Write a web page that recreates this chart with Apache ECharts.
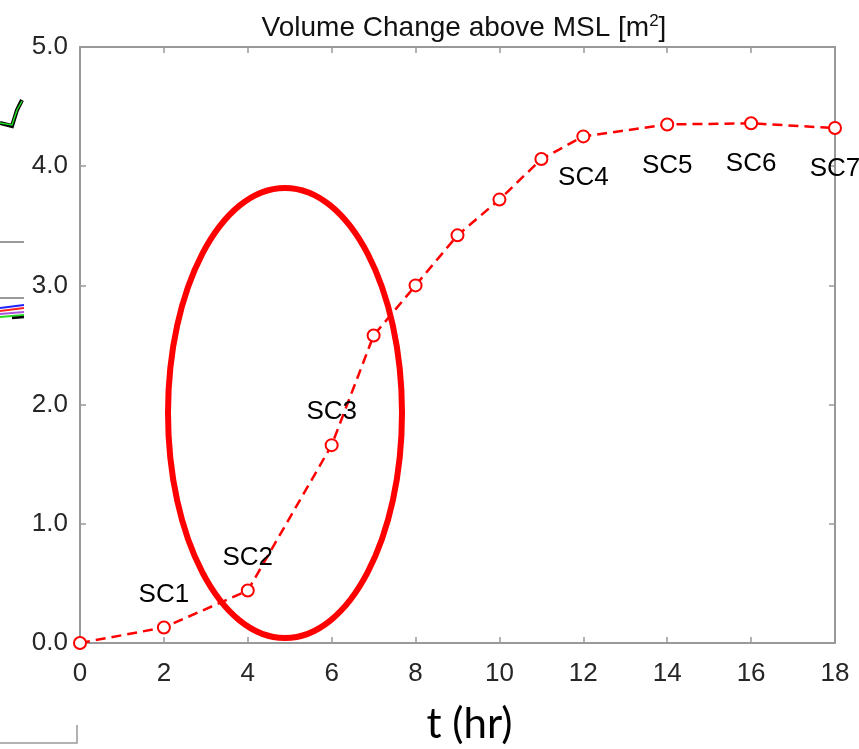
<!DOCTYPE html>
<html>
<head>
<meta charset="utf-8">
<script src="https://cdn.jsdelivr.net/npm/echarts@6/dist/echarts.min.js"></script>
<style>
  html, body { margin: 0; padding: 0; background: #fff; }
  #chart { width: 859px; height: 749px; }
</style>
</head>
<body>
<div id="chart"></div>
<script>
// time (hr) and volume change above MSL
var hours = [0, 2, 4, 6, 7, 8, 9, 10, 11, 12, 14, 16, 18];
var volume = [0, 0.13, 0.44, 1.66, 2.58, 3.0, 3.42, 3.72, 4.06, 4.25, 4.35, 4.36, 4.32];
// scenario labels, '' where a point has no label
var scLabels = ['', 'SC1', 'SC2', 'SC3', '', '', '', '', '', 'SC4', 'SC5', 'SC6', 'SC7'];
var xTicks = [0, 18, 2];
var yTicks = [0, 5, 1];

var axisGray = '#999999'
var textDark = '#262626'

var seriesData = hours.map(function (h, i) {
    var item = { value: [h, volume[i]] }
    if (scLabels[i]) {
        var below = h >= 12
        item.label = {
            show: true,
            formatter: scLabels[i],
            position: below ? 'bottom' : 'top',
            distance: below ? 21 : 13
        }
    }
    return item
})

function axisBase(opts) {
    return Object.assign({
        type: 'value',
        axisLine: { show: true, onZero: false, lineStyle: { color: axisGray, width: 2 } },
        axisTick: { show: true, inside: true, length: 6, lineStyle: { color: axisGray, width: 1.5 } },
        splitLine: { show: false },
        axisLabel: { show: false }
    }, opts)
}

var chart = echarts.init(document.getElementById('chart'))
chart.setOption({
    animation: false,
    title: {
        text: 'Volume Change above MSL [m{sup|2}]',
        left: 459,
        textAlign: 'center',
        top: 8,
        textStyle: {
            fontFamily: 'Liberation Sans',
            fontWeight: 'normal',
            fontSize: 28,
            color: '#111',
            rich: { sup: { fontSize: 17, verticalAlign: 'top', padding: [0, 0, 14, 0], fontFamily: 'Liberation Sans', color: '#111' } }
        }
    },
    grid: { left: 80, right: 24, top: 47, bottom: 106, outerBoundsMode: 'none', containLabel: false },
    xAxis: [
        axisBase({
            min: xTicks[0], max: xTicks[1], interval: xTicks[2],
            position: 'bottom',
            axisLabel: { show: true, fontFamily: 'Liberation Sans', fontSize: 26, color: textDark, margin: 18 },
            name: 't (hr)',
            nameLocation: 'middle',
            nameGap: 60,
            nameTextStyle: { fontFamily: 'Lato', fontSize: 42, color: '#000', verticalAlign: 'top', padding: [0, 0, 0, 24] }
        }),
        axisBase({ min: xTicks[0], max: xTicks[1], interval: xTicks[2], position: 'top' })
    ],
    yAxis: [
        axisBase({
            min: yTicks[0], max: yTicks[1], interval: yTicks[2],
            position: 'left',
            axisLabel: {
                show: true, fontFamily: 'Liberation Sans', fontSize: 26, color: textDark, margin: 12,
                formatter: function (v) { return v.toFixed(1) }
            }
        }),
        axisBase({ min: yTicks[0], max: yTicks[1], interval: yTicks[2], position: 'right' })
    ],
    series: [{
        type: 'line',
        xAxisIndex: 0,
        yAxisIndex: 0,
        data: seriesData,
        clip: false,
        symbol: 'emptyCircle',
        symbolSize: 12,
        lineStyle: { color: '#ff0000', width: 2.5, type: [10, 6] },
        itemStyle: { color: '#ff0000', borderColor: '#ff0000', borderWidth: 2.5 },
        label: { fontFamily: 'Liberation Sans', fontSize: 26, color: '#000' },
        z: 3
    }],
    graphic: [
        // highlight ellipse
        {
            type: 'ellipse',
            shape: { cx: 285, cy: 413, rx: 117, ry: 225 },
            style: { fill: null, stroke: '#ff0000', lineWidth: 6 },
            z: 10
        },
        // cropped bits of neighbouring panels on the left edge
        { type: 'polyline', shape: { points: [[0, 123], [12, 126], [17, 110], [22, 100]] }, style: { stroke: '#000', lineWidth: 4, fill: null } },
        { type: 'polyline', shape: { points: [[0, 123], [12, 125], [17, 110], [22, 101]] }, style: { stroke: '#22dd22', lineWidth: 1.5, fill: null } },
        { type: 'line', shape: { x1: 0, y1: 242, x2: 24, y2: 242 }, style: { stroke: axisGray, lineWidth: 2 } },
        { type: 'line', shape: { x1: 0, y1: 298, x2: 24, y2: 298 }, style: { stroke: axisGray, lineWidth: 2 } },
        { type: 'line', shape: { x1: 0, y1: 308, x2: 24, y2: 305 }, style: { stroke: '#2222ff', lineWidth: 2 } },
        { type: 'line', shape: { x1: 0, y1: 311, x2: 24, y2: 308 }, style: { stroke: '#ff2222', lineWidth: 2 } },
        { type: 'line', shape: { x1: 0, y1: 314, x2: 24, y2: 312 }, style: { stroke: '#aa55dd', lineWidth: 2 } },
        { type: 'line', shape: { x1: 0, y1: 317, x2: 24, y2: 315 }, style: { stroke: '#22dd22', lineWidth: 2 } },
        { type: 'line', shape: { x1: 12, y1: 318, x2: 24, y2: 317 }, style: { stroke: '#000', lineWidth: 2.5 } },
        { type: 'polyline', shape: { points: [[0, 743], [77, 743], [77, 725]] }, style: { stroke: axisGray, lineWidth: 1.5, fill: null } }
    ]
})
</script>
</body>
</html>
